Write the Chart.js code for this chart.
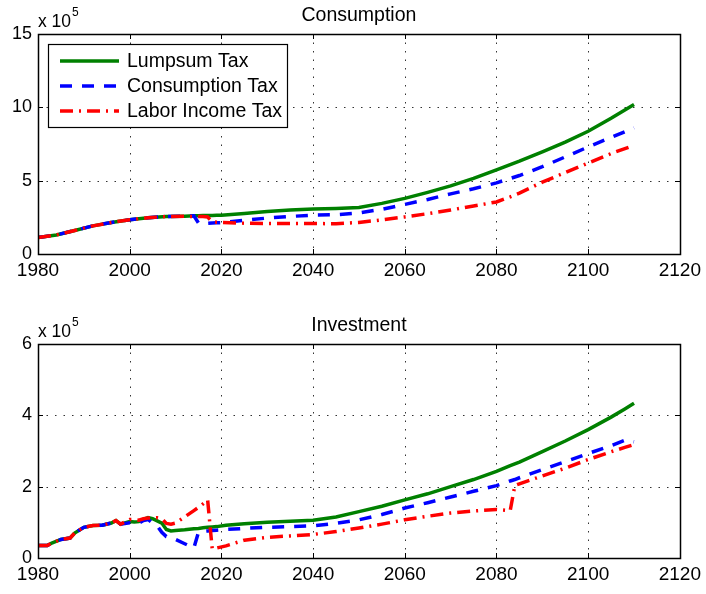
<!DOCTYPE html>
<html>
<head>
<meta charset="utf-8">
<script src="https://cdn.jsdelivr.net/npm/chart.js@4/dist/chart.umd.min.js"></script>
<style>
  html, body { margin: 0; padding: 0; background: #fff; }
  #wrap { position: relative; width: 706px; height: 594px; }
  canvas { position: absolute; left: 0; }
</style>
</head>
<body>
<div id="wrap">
  <canvas id="cons" width="706" height="297" style="top:0"></canvas>
  <canvas id="inv" width="706" height="297" style="top:297px"></canvas>
</div>
<script>
// Series and axis ticks (values in units of 10^5)
const seriesNames = ['Lumpsum Tax', 'Consumption Tax', 'Labor Income Tax'];
const yearTicks = [1980, 2000, 2020, 2040, 2060, 2080, 2100, 2120];
const consTicks = [0, 5, 10, 15];
const invTicks = [0, 2, 4, 6];

const consYears = [1980, 1984, 1988, 1992, 1996, 2000, 2004, 2008, 2012, 2014, 2015, 2016, 2017, 2018, 2019, 2020,
  2025, 2030, 2035, 2040, 2045, 2050, 2055, 2060, 2065, 2070, 2075, 2080, 2083, 2085, 2090, 2095, 2100, 2105, 2110];
const consLumpsum = [1.12, 1.3, 1.6, 1.92, 2.15, 2.33, 2.47, 2.56, 2.58, 2.6, 2.61, 2.62, 2.63, 2.63, 2.64, 2.65,
  2.76, 2.9, 3.0, 3.06, 3.1, 3.17, 3.45, 3.79, 4.2, 4.64, 5.15, 5.74, 6.1, 6.33, 6.96, 7.63, 8.37, 9.25, 10.2];
const consConsumption = [1.12, 1.3, 1.6, 1.92, 2.15, 2.33, 2.47, 2.56, 2.59, 2.6, 2.12, 2.1, 2.1, 2.12, 2.13, 2.14,
  2.3, 2.45, 2.56, 2.65, 2.68, 2.8, 3.05, 3.38, 3.72, 4.1, 4.45, 4.85, 5.15, 5.35, 5.95, 6.62, 7.3, 7.95, 8.6];
const consLabor = [1.12, 1.3, 1.6, 1.92, 2.15, 2.33, 2.47, 2.56, 2.57, 2.55, 2.55, 2.55, 2.52, 2.2, 2.17, 2.15,
  2.1, 2.08, 2.08, 2.08, 2.06, 2.15, 2.33, 2.53, 2.75, 3.0, 3.27, 3.55, 3.9, 4.15, 4.9, 5.55, 6.2, 6.85, 7.4];

const invYears = [1980, 1982, 1983, 1985, 1987, 1988, 1990, 1992, 1994, 1996, 1997, 1998, 2000, 2001, 2002, 2003,
  2004, 2005, 2006, 2007, 2008, 2009, 2010, 2012, 2014, 2015, 2016, 2017, 2018, 2019, 2021, 2025, 2030, 2035,
  2040, 2045, 2050, 2055, 2060, 2065, 2070, 2075, 2080, 2083, 2084, 2085, 2090, 2095, 2100, 2105, 2108, 2110];
const invLumpsum = [0.35, 0.35, 0.42, 0.52, 0.56, 0.7, 0.86, 0.91, 0.92, 0.98, 1.05, 0.95, 1.02, 1.01, 1.02, 1.08,
  1.13, 1.1, 1.04, 0.98, 0.8, 0.76, 0.77, 0.79, 0.82, 0.83, 0.85, 0.86, 0.87, 0.88, 0.92, 0.96, 1.0, 1.03,
  1.06, 1.15, 1.3, 1.45, 1.63, 1.8, 2.0, 2.2, 2.43, 2.59, 2.64, 2.69, 2.98, 3.28, 3.6, 3.95, 4.18, 4.34];
const invConsumption = [0.35, 0.35, 0.42, 0.52, 0.56, 0.7, 0.86, 0.91, 0.92, 0.98, 1.05, 0.95, 0.99, 0.97, 0.98, 1.05,
  1.08, 0.98, 0.9, 0.72, 0.6, 0.56, 0.52, 0.4, 0.28, 0.72, 0.75, 0.76, 0.77, 0.78, 0.8, 0.83, 0.86, 0.88,
  0.9, 0.97, 1.07, 1.22, 1.4, 1.55, 1.71, 1.87, 2.03, 2.16, 2.2, 2.25, 2.48, 2.7, 2.93, 3.15, 3.3, 3.26];
const invLabor = [0.35, 0.35, 0.42, 0.52, 0.56, 0.7, 0.86, 0.91, 0.92, 0.98, 1.05, 0.95, 1.08, 1.08, 1.06, 1.1,
  1.12, 1.12, 1.13, 1.1, 0.97, 0.95, 0.98, 1.15, 1.33, 1.42, 1.52, 1.63, 0.25, 0.28, 0.34, 0.5, 0.58, 0.62,
  0.66, 0.74, 0.84, 0.95, 1.07, 1.17, 1.26, 1.32, 1.36, 1.33, 2.03, 2.08, 2.3, 2.52, 2.76, 2.98, 3.1, 3.18];

const FONT = "'Liberation Sans', Arial, Helvetica, sans-serif";
const COLORS = ['#008000', '#0000ff', '#ff0000'];
const DASHES = [[], [12, 10], [13, 6, 2, 6]];

Chart.defaults.font.family = FONT;
Chart.defaults.color = '#000';

function points(xs, ys) {
  return xs.map((x, i) => ({ x: x, y: ys[i] }));
}

// Dotted grid, inward tick marks, boxed axes, title, exponent label and legend
const panelFrame = {
  id: 'panelFrame',
  beforeDatasetsDraw(chart) {
    const { ctx, chartArea: a, scales } = chart;
    ctx.save();
    ctx.strokeStyle = 'rgba(0,0,0,0.8)';
    ctx.lineWidth = 1;
    ctx.setLineDash([1.5, 7]);
    ctx.beginPath();
    scales.x.ticks.forEach(t => {
      const p = Math.round(scales.x.getPixelForValue(t.value)) + 0.5;
      ctx.moveTo(p, a.top); ctx.lineTo(p, a.bottom);
    });
    scales.y.ticks.forEach(t => {
      const p = Math.round(scales.y.getPixelForValue(t.value)) + 0.5;
      ctx.moveTo(a.left, p); ctx.lineTo(a.right, p);
    });
    ctx.stroke();
    ctx.restore();
  },
  afterDraw(chart, args, opts) {
    const { ctx, chartArea: a, scales } = chart;
    const L = Math.round(a.left), T = Math.round(a.top), R = Math.round(a.right), B = Math.round(a.bottom);
    ctx.save();
    ctx.strokeStyle = '#000';
    ctx.lineWidth = 1;
    ctx.beginPath();
    scales.x.ticks.forEach(t => {
      const p = Math.round(scales.x.getPixelForValue(t.value)) + 0.5;
      ctx.moveTo(p, B); ctx.lineTo(p, B - 5);
      ctx.moveTo(p, T); ctx.lineTo(p, T + 5);
    });
    scales.y.ticks.forEach(t => {
      const p = Math.round(scales.y.getPixelForValue(t.value)) + 0.5;
      ctx.moveTo(L, p); ctx.lineTo(L + 5, p);
      ctx.moveTo(R, p); ctx.lineTo(R - 5, p);
    });
    ctx.stroke();
    ctx.lineWidth = 1.5;
    ctx.strokeRect(L + 0.5, T + 0.5, R - L, B - T);

    ctx.fillStyle = '#000';
    ctx.textBaseline = 'alphabetic';
    ctx.textAlign = 'center';
    ctx.font = '19.5px ' + FONT;
    ctx.fillText(opts.title, (a.left + a.right) / 2, T - 13);

    ctx.textAlign = 'left';
    ctx.font = '17.5px ' + FONT;
    ctx.fillText('x 10', L, T - 7);
    const w = ctx.measureText('x 10').width;
    ctx.font = '12px ' + FONT;
    ctx.fillText(opts.exponent, L + w + 1, T - 18);

    if (opts.legend) {
      const bx = L + 10, by = T + 10, bw = 239, bh = 83;
      ctx.fillStyle = '#fff';
      ctx.fillRect(bx, by, bw, bh);
      ctx.strokeStyle = '#000';
      ctx.lineWidth = 1.2;
      ctx.strokeRect(bx + 0.5, by + 0.5, bw, bh);
      ctx.font = '19.5px ' + FONT;
      ctx.textBaseline = 'middle';
      chart.data.datasets.forEach((ds, i) => {
        const ly = by + 17 + i * 25;
        ctx.save();
        ctx.strokeStyle = ds.borderColor;
        ctx.lineWidth = ds.borderWidth;
        ctx.setLineDash(ds.borderDash || []);
        ctx.beginPath();
        ctx.moveTo(bx + 12, ly);
        ctx.lineTo(bx + 71, ly);
        ctx.stroke();
        ctx.restore();
        ctx.fillStyle = '#000';
        ctx.fillText(ds.label, bx + 79, ly + 1);
      });
    }
    ctx.restore();
  }
};

function makePanel(id, years, series, yTicks, padTop, xHeight, title, legend) {
  return new Chart(document.getElementById(id), {
    type: 'line',
    data: {
      datasets: series.map((ys, i) => ({
        label: seriesNames[i],
        data: points(years, ys),
        borderColor: COLORS[i],
        borderWidth: 3.5,
        borderDash: DASHES[i],
        pointRadius: 0,
        tension: 0,
        fill: false,
        // later series are painted on top of earlier ones
        order: series.length - i
      }))
    },
    options: {
      responsive: false,
      animation: false,
      devicePixelRatio: 1,
      layout: { padding: { top: padTop, right: 22, left: 0, bottom: 0 } },
      plugins: {
        legend: { display: false },
        tooltip: { enabled: false },
        panelFrame: { title: title, exponent: '5', legend: legend }
      },
      scales: {
        x: {
          type: 'linear',
          min: yearTicks[0],
          max: yearTicks[yearTicks.length - 1],
          afterBuildTicks: s => { s.ticks = yearTicks.map(v => ({ value: v })); },
          afterFit: s => { s.height = xHeight; },
          ticks: { callback: v => String(v), color: '#000', font: { size: 19 }, padding: 5, maxRotation: 0, autoSkip: false },
          grid: { display: false, drawTicks: false },
          border: { display: false }
        },
        y: {
          type: 'linear',
          min: yTicks[0],
          max: yTicks[yTicks.length - 1],
          afterBuildTicks: s => { s.ticks = yTicks.map(v => ({ value: v })); },
          afterFit: s => { s.width = 38; },
          ticks: { callback: v => String(v), color: '#000', font: { size: 18 }, padding: 6, autoSkip: false },
          grid: { display: false, drawTicks: false },
          border: { display: false }
        }
      }
    },
    plugins: [panelFrame]
  });
}

makePanel('cons', consYears, [consLumpsum, consConsumption, consLabor], consTicks, 34, 43, 'Consumption', true);
makePanel('inv', invYears, [invLumpsum, invConsumption, invLabor], invTicks, 47, 36, 'Investment', false);
</script>
</body>
</html>
